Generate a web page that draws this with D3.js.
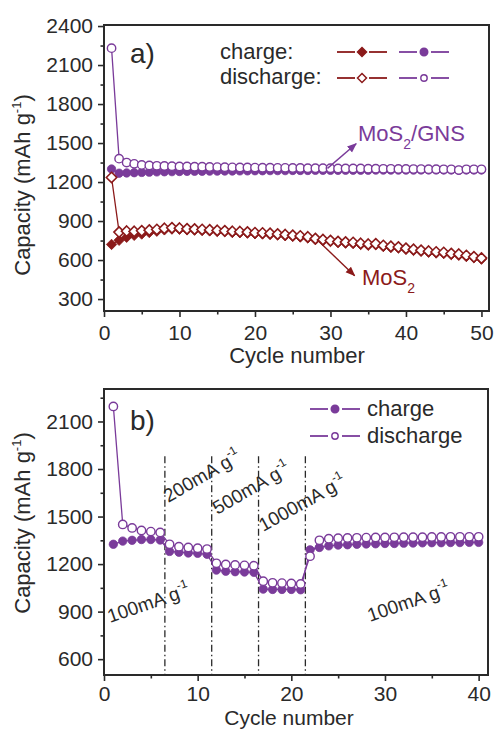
<!DOCTYPE html>
<html>
<head>
<meta charset="utf-8">
<script src="https://cdn.jsdelivr.net/npm/d3@7"></script>
<style>
body { margin: 0; background: #fff; }
svg { font-family: "Liberation Sans", Arial, sans-serif; }
</style>
</head>
<body>
<div id="container"></div>
<script>
const purple = '#7a3b9a';
const wine = '#8b1a1a';
const ink = '#2a2a2a';

// panel a) - 50 cycles
const cyclesA = d3.range(1, 51);
const gnsDischargeA = [2230,1380,1350,1340,1332,1328,1325,1324,1322,1320,
  1320,1318,1318,1316,1315,1314,1313,1312,1312,1311,
  1310,1310,1309,1309,1308,1308,1307,1307,1306,1306,
  1305,1305,1304,1304,1303,1303,1302,1302,1301,1301,
  1300,1300,1299,1299,1298,1298,1292,1298,1298,1298];
const gnsChargeA = [1300,1268,1270,1272,1274,1276,1278,1279,1280,1281,
  1282,1283,1283,1284,1284,1285,1285,1286,1286,1287,
  1287,1288,1288,1288,1289,1289,1289,1290,1290,1290,
  1290,1291,1291,1291,1291,1292,1292,1292,1292,1292,
  1292,1293,1293,1293,1293,1293,1290,1293,1293,1293];
const mosDischargeA = [1235,815,822,820,825,830,835,843,848,845,
  840,838,835,832,828,825,820,818,815,810,
  808,805,800,795,790,785,778,765,757,750,
  742,738,735,728,722,725,712,705,700,690,
  682,675,668,662,658,650,645,635,625,615];
const mosChargeA = [720,752,775,790,800,812,822,832,838,837,
  832,830,827,824,820,817,812,810,807,802,
  800,797,792,787,782,777,770,757,749,742,
  734,730,727,720,714,717,704,697,692,682,
  674,667,660,654,650,642,637,627,617,607];
const xTicksA = [0, 10, 20, 30, 40, 50];
const yTicksA = [300, 600, 900, 1200, 1500, 1800, 2100, 2400];

// panel b) - rate test, 40 cycles
const cyclesB = d3.range(1, 41);
const dischargeB = [2195,1450,1428,1412,1405,1400,1325,1310,1305,1300,
  1295,1205,1198,1195,1192,1190,1092,1082,1080,1078,
  1075,1250,1350,1360,1363,1365,1366,1367,1368,1368,
  1369,1370,1370,1370,1371,1371,1372,1372,1372,1372];
const chargeB = [1325,1345,1350,1355,1355,1352,1280,1275,1270,1268,
  1262,1162,1155,1152,1150,1148,1042,1040,1040,1040,
  1038,1290,1305,1315,1320,1322,1325,1327,1328,1330,
  1330,1332,1333,1334,1335,1335,1336,1336,1337,1337];
const xTicksB = [0, 10, 20, 30, 40];
const yTicksB = [600, 900, 1200, 1500, 1800, 2100];
const rateSteps = [6.5, 11.5, 16.5, 21.5];
const rateLabels = [
  {text: '100mA g', x: 0.65, y: 828, angle: -19},
  {text: '200mA g', x: 6.85, y: 1586, angle: -30},
  {text: '500mA g', x: 12.1, y: 1510, angle: -30},
  {text: '1000mA g', x: 17.0, y: 1403, angle: -29},
  {text: '100mA g', x: 28.4, y: 835, angle: -19}
];

const W = 494, H = 729;
const svg = d3.select('#container').append('svg')
  .attr('width', W).attr('height', H);

const defs = svg.append('defs');
[['arrowP', purple], ['arrowR', wine]].forEach(([id, c]) => {
  defs.append('marker')
    .attr('id', id).attr('viewBox', '0 0 10 10')
    .attr('refX', 9).attr('refY', 5)
    .attr('markerWidth', 7).attr('markerHeight', 7)
    .attr('orient', 'auto')
    .append('path').attr('d', 'M0,1L10,5L0,9Z').attr('fill', c);
});

const diamond = s => `M0,${-s}L${s},0L0,${s}L${-s},0Z`;

function axes(x, y, xTicks, yTicks, xMinor, yMinor, xPad) {
  const [x0, x1] = x.range();
  const [y0, y1] = y.range();
  const fmt = d3.format('d');
  const xa = svg.append('g').attr('transform', `translate(0,${y0})`)
    .call(d3.axisBottom(x).tickValues(xTicks).tickFormat(fmt).tickSize(6).tickSizeOuter(0).tickPadding(xPad));
  const xm = svg.append('g').attr('transform', `translate(0,${y0})`)
    .call(d3.axisBottom(x).tickValues(xMinor).tickSize(3.5).tickSizeOuter(0).tickFormat(''));
  const ya = svg.append('g').attr('transform', `translate(${x0},0)`)
    .call(d3.axisLeft(y).tickValues(yTicks).tickFormat(fmt).tickSize(6).tickSizeOuter(0).tickPadding(5));
  const ym = svg.append('g').attr('transform', `translate(${x0},0)`)
    .call(d3.axisLeft(y).tickValues(yMinor).tickSize(3.5).tickSizeOuter(0).tickFormat(''));
  [xa, xm, ya, ym].forEach(g => {
    g.select('.domain').remove();
    g.selectAll('line').attr('stroke', ink).attr('stroke-width', 1.6);
    g.selectAll('text').attr('fill', ink).attr('font-size', 21)
      .attr('font-family', '"Liberation Sans", Arial, sans-serif');
  });
  svg.append('rect')
    .attr('x', x0).attr('y', y1)
    .attr('width', x1 - x0).attr('height', y0 - y1)
    .attr('fill', 'none').attr('stroke', ink).attr('stroke-width', 2);
}

function yTitle(cx, cy) {
  const t = svg.append('text')
    .attr('transform', `translate(${cx},${cy}) rotate(-90)`)
    .attr('text-anchor', 'middle')
    .attr('font-size', 22).attr('fill', ink);
  t.append('tspan').text('Capacity (mAh g');
  t.append('tspan').attr('font-size', 13).attr('dy', -9).text('-1');
  t.append('tspan').attr('dy', 9).text(')');
}

function xTitle(cx, by, fs) {
  svg.append('text').attr('x', cx).attr('y', by)
    .attr('text-anchor', 'middle').attr('font-size', fs).attr('fill', ink)
    .text('Cycle number');
}

function series(x, y, xs, vals, color, kind, open) {
  const line = d3.line().x((d, i) => x(xs[i])).y(d => y(d));
  svg.append('path').datum(vals)
    .attr('d', line).attr('fill', 'none')
    .attr('stroke', color).attr('stroke-width', 1.3);
  const g = svg.append('g');
  const pts = g.selectAll('.pt').data(vals).enter();
  if (kind === 'circle') {
    pts.append('circle')
      .attr('cx', (d, i) => x(xs[i])).attr('cy', d => y(d)).attr('r', 4.2)
      .attr('fill', open ? '#fff' : color)
      .attr('stroke', color).attr('stroke-width', open ? 1.4 : 0.8);
  } else {
    pts.append('path').attr('d', diamond(5.2))
      .attr('transform', (d, i) => `translate(${x(xs[i])},${y(d)})`)
      .attr('fill', open ? '#fff' : color)
      .attr('stroke', color).attr('stroke-width', open ? 1.6 : 0.8);
  }
}

// legend symbol: line segments with a gap around the marker
function legendSym(x0, x1, cy, color, kind, open) {
  const cx = (x0 + x1) / 2;
  [[x0, cx - 7], [cx + 7, x1]].forEach(([a, b]) => {
    svg.append('line').attr('x1', a).attr('x2', b).attr('y1', cy).attr('y2', cy)
      .attr('stroke', color).attr('stroke-width', 1.8);
  });
  if (kind === 'circle') {
    svg.append('circle').attr('cx', cx).attr('cy', cy).attr('r', open ? 3.2 : 3.8)
      .attr('fill', open ? '#fff' : color).attr('stroke', color).attr('stroke-width', 1.4);
  } else {
    svg.append('path').attr('d', diamond(4.5))
      .attr('transform', `translate(${cx},${cy})`)
      .attr('fill', open ? '#fff' : color).attr('stroke', color).attr('stroke-width', 1.5);
  }
}

// ---------- panel a ----------
const xA = d3.scaleLinear().domain([0, 51]).range([104, 489]);
const yA = d3.scaleLinear().domain([208, 2408]).range([311, 25]);
axes(xA, yA, xTicksA, yTicksA, [5, 15, 25, 35, 45],
  [450, 750, 1050, 1350, 1650, 1950, 2250], 8);

series(xA, yA, cyclesA, gnsChargeA, purple, 'circle', false);
series(xA, yA, cyclesA, gnsDischargeA, purple, 'circle', true);
series(xA, yA, cyclesA, mosChargeA, wine, 'diamond', false);
series(xA, yA, cyclesA, mosDischargeA, wine, 'diamond', true);

svg.append('text').attr('x', 130).attr('y', 63)
  .attr('font-size', 28).attr('fill', ink).text('a)');

svg.append('text').attr('x', 220).attr('y', 59)
  .attr('font-size', 22).attr('fill', ink).text('charge:');
svg.append('text').attr('x', 220).attr('y', 84)
  .attr('font-size', 22).attr('fill', ink).text('discharge:');
legendSym(337, 387, 52, wine, 'diamond', false);
legendSym(399, 449, 52, purple, 'circle', false);
legendSym(337, 387, 78, wine, 'diamond', true);
legendSym(399, 449, 78, purple, 'circle', true);

// annotations
svg.append('line').attr('x1', xA(29.6)).attr('y1', yA(1305))
  .attr('x2', xA(33.4)).attr('y2', yA(1495))
  .attr('stroke', purple).attr('stroke-width', 1.4).attr('marker-end', 'url(#arrowP)');
const tg = svg.append('text').attr('x', 358).attr('y', 141)
  .attr('font-size', 22).attr('fill', purple);
tg.append('tspan').text('MoS');
tg.append('tspan').attr('font-size', 14).attr('dy', 8).text('2');
tg.append('tspan').attr('dy', -8).text('/GNS');

svg.append('line').attr('x1', xA(28.2)).attr('y1', yA(758))
  .attr('x2', xA(33.2)).attr('y2', yA(480))
  .attr('stroke', wine).attr('stroke-width', 1.4).attr('marker-end', 'url(#arrowR)');
const tm = svg.append('text').attr('x', 362).attr('y', 285)
  .attr('font-size', 22).attr('fill', wine);
tm.append('tspan').text('MoS');
tm.append('tspan').attr('font-size', 14).attr('dy', 8).text('2');

yTitle(30, 185);
xTitle(297, 363, 22);

// ---------- panel b ----------
const xB = d3.scaleLinear().domain([0, 41]).range([104, 488]);
const yB = d3.scaleLinear().domain([500, 2305]).range([675, 389]);
axes(xB, yB, xTicksB, yTicksB, [5, 15, 25, 35],
  [750, 1050, 1350, 1650, 1950, 2250], 5.5);

svg.append('g').selectAll('line').data(rateSteps).enter().append('line')
  .attr('x1', d => xB(d)).attr('x2', d => xB(d))
  .attr('y1', yB(1880)).attr('y2', yB(500))
  .attr('stroke', ink).attr('stroke-width', 1.3)
  .attr('stroke-dasharray', '7,3,1.5,3');

svg.append('g').selectAll('text').data(rateLabels).enter().append('text')
  .attr('transform', d => `translate(${xB(d.x)},${yB(d.y)}) rotate(${d.angle})`)
  .attr('font-size', 19).attr('fill', ink)
  .each(function(d) {
    const t = d3.select(this);
    t.append('tspan').text(d.text);
    t.append('tspan').attr('font-size', 12).attr('dy', -9).text('-1');
  });

series(xB, yB, cyclesB, chargeB, purple, 'circle', false);
series(xB, yB, cyclesB, dischargeB, purple, 'circle', true);

svg.append('text').attr('x', 130).attr('y', 430)
  .attr('font-size', 28).attr('fill', ink).text('b)');

legendSym(310, 360, 409, purple, 'circle', false);
legendSym(310, 360, 436, purple, 'circle', true);
svg.append('text').attr('x', 367).attr('y', 416)
  .attr('font-size', 22).attr('fill', ink).text('charge');
svg.append('text').attr('x', 367).attr('y', 443)
  .attr('font-size', 22).attr('fill', ink).text('discharge');

yTitle(30, 523);
xTitle(289, 724.5, 21);
</script>
</body>
</html>
